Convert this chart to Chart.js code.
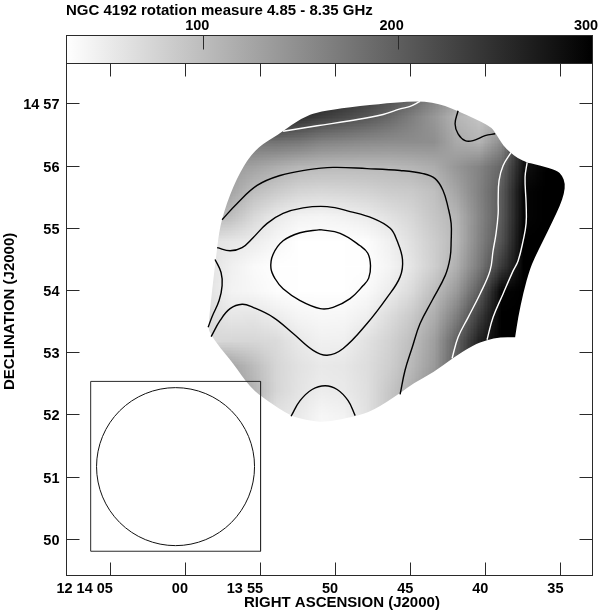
<!DOCTYPE html>
<html>
<head>
<meta charset="utf-8">
<script src="https://cdn.jsdelivr.net/npm/chart.js@4"></script>
<style>
    html, body { margin: 0; background: #fff; }
    #wrap { position: relative; width: 600px; height: 613px; }
    canvas { position: absolute; left: 0; top: 0; }
</style>
</head>
<body>
<div id="wrap">
    <canvas id="mapChart" width="600" height="613"></canvas>
    <canvas id="wedgeChart" width="600" height="64"></canvas>
</div>
<script>
// x = right ascension, seconds past 12 13 00; y = declination, arcmin past 14 00
const raTicks = [65, 60, 55, 50, 45, 40, 35];
const raLabels = ['12 14 05', '00', '13 55', '50', '45', '40', '35'];
const decTicks = [57, 56, 55, 54, 53, 52, 51, 50];
const decLabels = ['14 57', '56', '55', '54', '53', '52', '51', '50'];
const wedgeTicks = [100, 200, 300];

const gridRa = [60, 58.5, 57, 55.5, 54, 52.5, 51, 49.5, 48, 46.5, 45, 43.5, 42, 40.5, 39, 37.5, 36, 34.5];
const gridDec = [57.2, 56.8, 56.4, 56, 55.6, 55.2, 54.8, 54.4, 54, 53.6, 53.2, 52.8, 52.4, 52, 51.6];
const gridRm = [
    [300, 300, 300, 300, 300, 295, 280, 260, 245, 228, 205, 170, 140, 130, 150, 200, 260, 300],
    [300, 300, 300, 290, 270, 250, 235, 222, 208, 190, 165, 140, 108, 92, 110, 170, 250, 300],
    [200, 185, 170, 175, 178, 173, 161, 157, 153, 150, 150, 148, 120, 108, 150, 270, 300, 300],
    [150, 140, 135, 128, 115, 106, 103, 102, 103, 104, 108, 116, 140, 160, 192, 280, 330, 340],
    [150, 140, 125, 98, 85, 74, 71, 73, 76, 82, 86, 96, 125, 162, 203, 295, 335, 340],
    [130, 110, 97, 71, 52, 42, 40, 43, 50, 60, 72, 90, 108, 157, 205, 295, 340, 340],
    [70, 60, 55, 50, 38, 29, 25, 27, 32, 44, 62, 82, 105, 160, 212, 300, 340, 340],
    [70, 60, 45, 35, 29, 22, 20, 22, 28, 40, 57, 80, 113, 170, 237, 330, 340, 340],
    [70, 60, 42, 38, 32, 27, 23, 26, 35, 48, 68, 98, 135, 200, 295, 340, 340, 340],
    [75, 65, 55, 57, 48, 40, 37, 38, 45, 65, 86, 115, 165, 235, 315, 340, 340, 340],
    [85, 70, 72, 72, 68, 53, 44, 45, 60, 76, 97, 130, 195, 265, 330, 340, 340, 340],
    [170, 150, 125, 100, 73, 60, 53, 55, 64, 80, 104, 135, 200, 280, 340, 340, 340, 340],
    [190, 170, 140, 110, 73, 58, 48, 52, 62, 88, 115, 150, 200, 280, 340, 340, 340, 340],
    [190, 175, 140, 100, 60, 52, 38, 42, 60, 90, 120, 150, 200, 280, 340, 340, 340, 340],
    [190, 175, 145, 105, 65, 50, 35, 38, 60, 95, 125, 150, 200, 280, 340, 340, 340, 340],
];
const wedgeMin = 29.4;
const wedgeMax = 300;

// edge of the mapped region, a repeated point keeps a sharp corner
const edgeRa = [53.50, 52.37, 51.03, 45.71, 43.51, 41.91, 39.72, 39.32, 38.85, 38.38, 37.85, 37.25, 37.25, 36.39, 35.26, 34.92, 34.72, 34.79, 35.06, 35.52, 36.19, 36.52, 37.05, 37.52, 37.85, 38.05, 38.05, 39.05, 39.92, 40.85, 42.18, 43.51, 44.84, 45.71, 47.51, 48.70, 50.57, 51.90, 53.03, 54.56, 55.69, 56.83, 57.69, 58.36, 58.49, 58.23, 57.89, 57.76, 57.56, 57.23, 56.83, 56.36, 55.89, 55.36, 54.83, 54.16];
const edgeDec = [56.56, 56.76, 56.89, 57.04, 57.04, 56.89, 56.65, 56.52, 56.33, 56.22, 56.12, 56.06, 56.06, 56.01, 55.93, 55.85, 55.72, 55.56, 55.37, 55.13, 54.80, 54.64, 54.37, 53.95, 53.57, 53.25, 53.25, 53.25, 53.21, 53.12, 52.92, 52.68, 52.51, 52.35, 52.07, 51.98, 51.88, 51.91, 51.99, 52.23, 52.44, 52.83, 53.08, 53.31, 53.41, 54.00, 54.69, 54.93, 55.16, 55.41, 55.66, 55.90, 56.09, 56.25, 56.36, 56.46];

// contours, each [ra, dec] pairs
const contourBlob = [[51.03, 54.98], [49.70, 54.92], [48.37, 54.72], [47.86, 54.60], [47.68, 54.40], [47.80, 54.20], [48.17, 54.08], [49.04, 53.87], [50.17, 53.73], [51.03, 53.71], [52.37, 53.84], [53.50, 54.03], [54.03, 54.19], [54.31, 54.36], [54.17, 54.58], [53.50, 54.80], [52.37, 54.93], [51.03, 54.98]];
const contourMiddle = [[57.89, 54.69], [57.03, 54.64], [56.23, 54.69], [55.50, 54.85], [54.56, 55.08], [53.50, 55.24], [52.17, 55.33], [50.57, 55.35], [49.04, 55.27], [47.51, 55.16], [46.37, 55.00], [45.91, 54.80], [45.55, 54.50], [45.71, 54.22], [46.57, 53.89], [47.91, 53.47], [49.50, 53.07], [50.57, 52.96], [51.50, 53.04], [52.83, 53.31], [54.16, 53.57], [55.50, 53.73], [56.23, 53.78], [57.03, 53.71], [57.69, 53.52], [58.29, 53.26]];
const contourOuter = [[57.56, 55.14], [56.56, 55.40], [55.23, 55.69], [53.70, 55.85], [51.90, 55.94], [50.17, 55.98], [47.91, 55.96], [45.71, 55.93], [44.18, 55.88], [43.38, 55.80], [42.85, 55.61], [42.51, 55.33], [42.31, 55.08], [42.31, 54.80], [42.38, 54.53], [42.71, 54.24], [43.58, 53.84], [44.38, 53.47], [44.91, 53.08], [45.38, 52.72], [45.71, 52.33]];
const contourLeft = [[58.03, 54.50], [57.63, 54.29], [57.56, 54.08], [57.76, 53.84], [58.23, 53.58], [58.49, 53.41]];
const contourSouth = [[52.97, 51.98], [52.37, 52.23], [51.57, 52.41], [50.70, 52.47], [49.90, 52.41], [49.17, 52.23], [48.70, 51.99]];
const contourNorthEast = [[41.85, 56.89], [42.05, 56.68], [41.85, 56.52], [41.38, 56.41], [40.85, 56.41], [40.05, 56.49], [39.38, 56.52]];
const contourNorth = [[53.50, 56.56], [51.23, 56.65], [49.04, 56.73], [46.84, 56.83], [45.71, 56.92], [45.04, 56.96], [44.38, 57.04]];
const contourEast1 = [[38.32, 56.22], [38.85, 56.01], [39.12, 55.77], [39.18, 55.45], [39.18, 55.24], [39.32, 54.92], [39.52, 54.64], [39.72, 54.32], [40.38, 53.95], [41.18, 53.57], [41.85, 53.25], [42.25, 52.91]];
const contourEast2 = [[37.25, 56.06], [37.39, 55.82], [37.32, 55.40], [37.32, 55.08], [37.52, 54.80], [37.85, 54.48], [38.18, 54.32], [38.85, 53.95], [39.52, 53.57], [39.92, 53.21]];

// beam box and circle in the lower left corner
const beamBox = [[66.31, 52.54], [55.0, 52.54], [55.0, 49.81], [66.31, 49.81], [66.31, 52.54]];
const beamCentre = [60.66, 51.17];

const fontFamily = "'Liberation Sans', Arial, sans-serif";
const inkColor = '#2a2a2a';

function toPoints(pairs) {
    return pairs.map(function (p) {
        return { x: p[0], y: p[1] };
    });
}

function contour(pairs, color) {
    return {
        data: toPoints(pairs),
        showLine: true,
        borderColor: color,
        borderWidth: 1.4,
        tension: 0.4,
        pointRadius: 0,
    };
}

function crisp(v) {
    return Math.round(v - 0.5) + 0.5;
}

function greyFor(value) {
    const t = Math.min(1, Math.max(0, (value - wedgeMin) / (wedgeMax - wedgeMin)));
    return Math.round(255 * (1 - t));
}

function setInk(ctx) {
    ctx.strokeStyle = inkColor;
    ctx.lineWidth = 1;
}

const rmImagePlugin = {
    id: 'rmImage',
    beforeDatasetsDraw: function (chart) {
        const ctx = chart.ctx;
        const xs = chart.scales.x;
        const ys = chart.scales.y;

        const off = document.createElement('canvas');
        off.width = gridRa.length;
        off.height = gridDec.length;
        const offCtx = off.getContext('2d');
        gridRm.forEach(function (row, j) {
            row.forEach(function (value, i) {
                const g = greyFor(value);
                offCtx.fillStyle = 'rgb(' + g + ',' + g + ',' + g + ')';
                offCtx.fillRect(i, j, 1, 1);
            });
        });

        const stepRa = (gridRa[0] - gridRa[1]) / 2;
        const stepDec = (gridDec[0] - gridDec[1]) / 2;
        const left = xs.getPixelForValue(gridRa[0] + stepRa);
        const right = xs.getPixelForValue(gridRa[gridRa.length - 1] - stepRa);
        const top = ys.getPixelForValue(gridDec[0] + stepDec);
        const bottom = ys.getPixelForValue(gridDec[gridDec.length - 1] - stepDec);

        // rounded outline through the midpoints of the edge points
        const n = edgeRa.length;
        const px = edgeRa.map(function (v) {
            return xs.getPixelForValue(v);
        });
        const py = edgeDec.map(function (v) {
            return ys.getPixelForValue(v);
        });

        ctx.save();
        ctx.beginPath();
        ctx.moveTo((px[n - 1] + px[0]) / 2, (py[n - 1] + py[0]) / 2);
        for (let i = 0; i < n; i++) {
            const next = (i + 1) % n;
            ctx.quadraticCurveTo(px[i], py[i], (px[i] + px[next]) / 2, (py[i] + py[next]) / 2);
        }
        ctx.closePath();
        ctx.clip();
        ctx.imageSmoothingEnabled = true;
        ctx.drawImage(off, left, top, right - left, bottom - top);
        ctx.restore();
    },
};

const framePlugin = {
    id: 'frame',
    afterDraw: function (chart) {
        const ctx = chart.ctx;
        const area = chart.chartArea;
        const xs = chart.scales.x;
        const ys = chart.scales.y;
        const tick = 13;

        ctx.save();
        setInk(ctx);
        ctx.strokeRect(crisp(area.left), crisp(area.top), crisp(area.right) - crisp(area.left), crisp(area.bottom) - crisp(area.top));
        ctx.beginPath();
        raTicks.forEach(function (v) {
            const px = crisp(xs.getPixelForValue(v));
            ctx.moveTo(px, area.top);
            ctx.lineTo(px, area.top + tick);
            ctx.moveTo(px, area.bottom);
            ctx.lineTo(px, area.bottom - tick);
        });
        decTicks.forEach(function (v) {
            const py = crisp(ys.getPixelForValue(v));
            ctx.moveTo(area.left, py);
            ctx.lineTo(area.left + tick, py);
            ctx.moveTo(area.right, py);
            ctx.lineTo(area.right - tick, py);
        });
        ctx.stroke();

        ctx.fillStyle = '#000';
        ctx.font = 'bold 15px ' + fontFamily;
        ctx.textBaseline = 'alphabetic';
        ctx.textAlign = 'left';
        ctx.fillText('NGC 4192 rotation measure 4.85 - 8.35 GHz', 66, 15);
        ctx.fillText('RIGHT ASCENSION (J2000)', 244, 607);
        ctx.translate(14, 390);
        ctx.rotate(-Math.PI / 2);
        ctx.fillText('DECLINATION (J2000)', 0, 0);
        ctx.restore();
    },
};

const wedgePlugin = {
    id: 'wedge',
    afterDraw: function (chart) {
        const ctx = chart.ctx;
        const area = chart.chartArea;
        const xs = chart.scales.x;
        const gradient = ctx.createLinearGradient(xs.getPixelForValue(wedgeMin), 0, xs.getPixelForValue(wedgeMax), 0);
        gradient.addColorStop(0, '#fff');
        gradient.addColorStop(1, '#000');

        ctx.save();
        ctx.fillStyle = gradient;
        ctx.fillRect(area.left, area.top, area.right - area.left, area.bottom - area.top);
        setInk(ctx);
        ctx.strokeRect(crisp(area.left), crisp(area.top), crisp(area.right) - crisp(area.left), crisp(area.bottom) - crisp(area.top));
        ctx.beginPath();
        wedgeTicks.forEach(function (v) {
            const px = crisp(xs.getPixelForValue(v));
            ctx.moveTo(px, area.top);
            ctx.lineTo(px, area.top + 14);
        });
        ctx.stroke();
        ctx.restore();
    },
};

new Chart(document.getElementById('mapChart'), {
    type: 'scatter',
    plugins: [rmImagePlugin, framePlugin],
    data: {
        datasets: [
            contour(contourBlob, '#000'),
            contour(contourMiddle, '#000'),
            contour(contourOuter, '#000'),
            contour(contourLeft, '#000'),
            contour(contourSouth, '#000'),
            contour(contourNorthEast, '#000'),
            contour(contourNorth, '#fff'),
            contour(contourEast1, '#fff'),
            contour(contourEast2, '#fff'),
            {
                data: toPoints(beamBox),
                showLine: true,
                borderColor: inkColor,
                borderWidth: 1,
                pointRadius: 0,
            },
            {
                data: toPoints([beamCentre]),
                pointRadius: 79,
                pointBackgroundColor: 'rgba(0, 0, 0, 0)',
                pointBorderColor: '#111',
                pointBorderWidth: 1,
            },
        ],
    },
    options: {
        responsive: false,
        animation: false,
        layout: { autoPadding: false, padding: { top: 63.5, right: 7.5, left: 0, bottom: 0 } },
        plugins: {
            legend: { display: false },
            tooltip: { enabled: false },
        },
        scales: {
            x: {
                type: 'linear',
                reverse: true,
                min: 32.9,
                max: 67.92,
                grid: { display: false, drawTicks: false },
                border: { display: false },
                afterBuildTicks: function (axis) {
                    axis.ticks = raTicks.map(function (v) {
                        return { value: v };
                    });
                },
                afterFit: function (axis) {
                    axis.height = 37.5;
                    axis.paddingLeft = 0;
                    axis.paddingRight = 0;
                },
                ticks: {
                    color: '#000',
                    font: { family: fontFamily, size: 14.5, weight: 'bold' },
                    align: 'end',
                    labelOffset: 2.5,
                    padding: 5,
                    maxRotation: 0,
                    minRotation: 0,
                    autoSkip: false,
                    callback: function (value) {
                        return raLabels[raTicks.indexOf(value)];
                    },
                },
            },
            y: {
                type: 'linear',
                min: 49.42,
                max: 57.65,
                grid: { display: false, drawTicks: false },
                border: { display: false },
                afterBuildTicks: function (axis) {
                    axis.ticks = decTicks.map(function (v) {
                        return { value: v };
                    });
                },
                afterFit: function (axis) {
                    axis.width = 66.5;
                    axis.paddingTop = 0;
                    axis.paddingBottom = 0;
                },
                ticks: {
                    color: '#000',
                    font: { family: fontFamily, size: 14.5, weight: 'bold' },
                    labelOffset: 1.5,
                    padding: 7,
                    autoSkip: false,
                    callback: function (value) {
                        return decLabels[decTicks.indexOf(value)];
                    },
                },
            },
        },
    },
});

new Chart(document.getElementById('wedgeChart'), {
    type: 'scatter',
    plugins: [wedgePlugin],
    data: { datasets: [{ data: [] }] },
    options: {
        responsive: false,
        animation: false,
        layout: { autoPadding: false, padding: { top: 0, right: 7.5, left: 66.5, bottom: 0.5 } },
        plugins: {
            legend: { display: false },
            tooltip: { enabled: false },
        },
        scales: {
            x: {
                type: 'linear',
                position: 'top',
                min: wedgeMin,
                max: wedgeMax,
                grid: { display: false, drawTicks: false },
                border: { display: false },
                afterBuildTicks: function (axis) {
                    axis.ticks = wedgeTicks.map(function (v) {
                        return { value: v };
                    });
                },
                afterFit: function (axis) {
                    axis.height = 35.5;
                    axis.paddingLeft = 0;
                    axis.paddingRight = 0;
                },
                ticks: {
                    color: '#000',
                    font: { family: fontFamily, size: 14.5, weight: 'bold' },
                    labelOffset: -6.5,
                    padding: 1,
                    maxRotation: 0,
                    minRotation: 0,
                    autoSkip: false,
                },
            },
            y: { display: false, min: 0, max: 1 },
        },
    },
});
</script>
</body>
</html>
